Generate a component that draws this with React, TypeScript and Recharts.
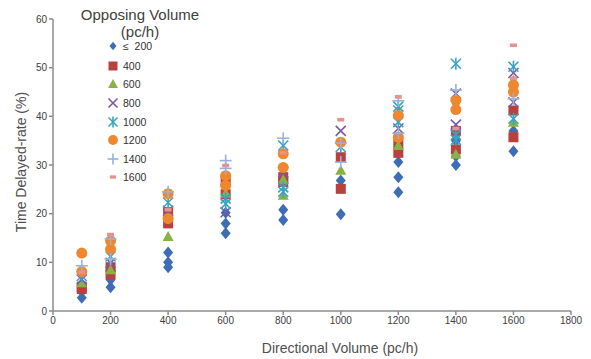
import React from "react";
import { ScatterChart, Scatter, XAxis, YAxis } from "recharts";

const xTicks = [0, 200, 400, 600, 800, 1000, 1200, 1400, 1600, 1800];
const yTicks = [0, 10, 20, 30, 40, 50, 60];
const seriesNames = ["≤  200", "400", "600", "800", "1000", "1200", "1400", "1600"];

const s200: number[][] = [[100, 2.7], [100, 4.0], [200, 4.9], [200, 6.4], [400, 9.0], [400, 10.0], [400, 12.0], [600, 16.0], [600, 18.0], [600, 20.2], [800, 18.7], [800, 20.8], [1000, 19.9], [1000, 26.8], [1200, 24.4], [1200, 27.5], [1200, 30.6], [1400, 30.0], [1400, 31.8], [1400, 35.0], [1600, 32.8], [1600, 37.0]];
const s400: number[][] = [[100, 4.5], [100, 5.0], [200, 7.5], [200, 9.0], [400, 18.0], [400, 20.3], [600, 24.0], [600, 26.8], [800, 26.5], [800, 27.5], [1000, 25.1], [1000, 31.6], [1200, 32.5], [1200, 34.5], [1400, 33.2], [1400, 37.0], [1600, 35.7], [1600, 41.2]];
const s600: number[][] = [[100, 5.8], [200, 8.5], [400, 15.3], [600, 24.2], [800, 23.8], [800, 27.0], [1000, 28.9], [1200, 34.0], [1400, 32.2], [1600, 38.8], [1600, 47.4]];
const s800: number[][] = [[100, 6.5], [200, 9.9], [400, 20.6], [600, 20.3], [600, 26.8], [800, 28.5], [1000, 37.0], [1200, 37.5], [1400, 38.3], [1400, 44.7], [1600, 42.9], [1600, 48.9]];
const s1000: number[][] = [[100, 7.2], [200, 11.2], [400, 22.3], [600, 22.0], [600, 23.1], [800, 24.5], [800, 25.4], [800, 34.0], [1000, 33.7], [1200, 38.8], [1200, 41.2], [1200, 42.0], [1400, 35.2], [1400, 36.2], [1400, 50.8], [1600, 39.5], [1600, 50.2]];
const s1200: number[][] = [[100, 8.1], [100, 11.9], [200, 12.7], [200, 14.4], [400, 19.0], [400, 24.1], [600, 25.8], [600, 27.8], [800, 29.5], [800, 32.3], [1000, 34.7], [1200, 35.7], [1200, 40.2], [1400, 41.4], [1400, 43.3], [1600, 45.0], [1600, 46.4]];
const s1400: number[][] = [[100, 9.3], [200, 10.7], [200, 14.8], [400, 24.5], [600, 29.3], [600, 30.9], [800, 35.5], [1000, 30.6], [1000, 34.5], [1200, 36.5], [1200, 43.2], [1400, 45.4], [1600, 43.6]];
const s1600: number[][] = [[100, 8.0], [200, 15.7], [400, 20.8], [600, 29.9], [800, 32.5], [1000, 39.3], [1200, 44.0], [1400, 37.5], [1600, 47.8], [1600, 54.6]];

const allSeries = [s200, s400, s600, s800, s1000, s1200, s1400, s1600];
const colors = ["#3E6DB5", "#B8403D", "#8AB145", "#7A5AA3", "#3BA3C2", "#EE872E", "#98B1DD", "#E39391"];
const kinds = ["diamond", "square", "triangle", "x", "asterisk", "circle", "plus", "dash"];

function marker(kind: string, color: string, cx: number, cy: number, s: number) {
  switch (kind) {
    case "diamond":
      return <path d={`M${cx},${cy - 6 * s} L${cx + 5 * s},${cy} L${cx},${cy + 6 * s} L${cx - 5 * s},${cy} Z`} fill={color} />;
    case "square":
      return <rect x={cx - 5 * s} y={cy - 5 * s} width={10 * s} height={10 * s} fill={color} />;
    case "triangle":
      return <path d={`M${cx},${cy - 5.5 * s} L${cx + 5.5 * s},${cy + 4.5 * s} L${cx - 5.5 * s},${cy + 4.5 * s} Z`} fill={color} />;
    case "x":
      return (
        <g stroke={color} strokeWidth={1.6}>
          <line x1={cx - 5 * s} y1={cy - 5 * s} x2={cx + 5 * s} y2={cy + 5 * s} />
          <line x1={cx - 5 * s} y1={cy + 5 * s} x2={cx + 5 * s} y2={cy - 5 * s} />
        </g>
      );
    case "asterisk":
      return (
        <g stroke={color} strokeWidth={1.6}>
          <line x1={cx - 5 * s} y1={cy - 5 * s} x2={cx + 5 * s} y2={cy + 5 * s} />
          <line x1={cx - 5 * s} y1={cy + 5 * s} x2={cx + 5 * s} y2={cy - 5 * s} />
          <line x1={cx} y1={cy - 6 * s} x2={cx} y2={cy + 6 * s} />
        </g>
      );
    case "circle":
      return <circle cx={cx} cy={cy} r={5.5 * s} fill={color} />;
    case "plus":
      return (
        <g stroke={color} strokeWidth={1.6}>
          <line x1={cx - 6 * s} y1={cy} x2={cx + 6 * s} y2={cy} />
          <line x1={cx} y1={cy - 6 * s} x2={cx} y2={cy + 6 * s} />
        </g>
      );
    default:
      return <rect x={cx - 3.5 * s} y={cy - 1.8 * s} width={7 * s} height={3.6 * s} fill={color} />;
  }
}

const font = "'Liberation Sans', Arial, sans-serif";

export default function App() {
  return (
    <div style={{ position: "absolute", left: 0, top: 0, width: 591, height: 359, background: "#fff", fontFamily: font }}>
      <ScatterChart width={591} height={359} margin={{ top: 19, right: 20, bottom: 18, left: 13 }}>
        <XAxis
          type="number"
          dataKey="x"
          domain={[0, 1800]}
          ticks={xTicks}
          height={30}
          stroke="#8c8c8c"
          strokeWidth={1.5}
          tickSize={4}
          tick={{ fontSize: 10, fill: "#404040", fontFamily: font }}
          interval={0}
        />
        <YAxis
          type="number"
          dataKey="y"
          domain={[0, 60]}
          ticks={yTicks}
          width={40}
          stroke="#8c8c8c"
          strokeWidth={1.5}
          tickSize={4}
          tick={{ fontSize: 10, fill: "#404040", fontFamily: font }}
          interval={0}
        />
        {allSeries.map((ser, i) => (
          <Scatter
            key={i}
            name={seriesNames[i]}
            data={ser.map((p) => ({ x: p[0], y: p[1] }))}
            isAnimationActive={false}
            shape={(props: any) => marker(kinds[i], colors[i], props.cx, props.cy, 1)}
          />
        ))}
      </ScatterChart>
      <div style={{ position: "absolute", left: 40, top: 6, width: 200, textAlign: "center", fontSize: 15, color: "#404040", lineHeight: "17px" }}>
        <div>Opposing Volume</div>
        <div>(pc/h)</div>
      </div>
      {seriesNames.map((n, i) => {
        const y = [45.7, 65.7, 84.3, 103.3, 121.7, 140.3, 159, 177.3][i];
        return (
          <div key={n} style={{ position: "absolute", left: 104, top: y - 8, height: 16, display: "flex", alignItems: "center" }}>
            <svg width={18} height={16} style={{ display: "block" }}>
              {marker(kinds[i], colors[i], 9, 8, i === 0 ? 0.7 : 0.9)}
            </svg>
            <span style={{ fontSize: 10.5, color: "#303030", marginLeft: 1, whiteSpace: "pre" }}>{n}</span>
          </div>
        );
      })}
      <div style={{ position: "absolute", left: 190, top: 340, width: 300, textAlign: "center", fontSize: 14, color: "#505050" }}>
        Directional Volume (pc/h)
      </div>
      <div style={{ position: "absolute", left: 21, top: 163, width: 0, height: 0 }}>
        <div style={{ position: "absolute", left: -100, top: -9, width: 200, textAlign: "center", fontSize: 14, color: "#505050", transform: "rotate(-90deg)", whiteSpace: "nowrap" }}>
          Time Delayed-rate (%)
        </div>
      </div>
    </div>
  );
}
